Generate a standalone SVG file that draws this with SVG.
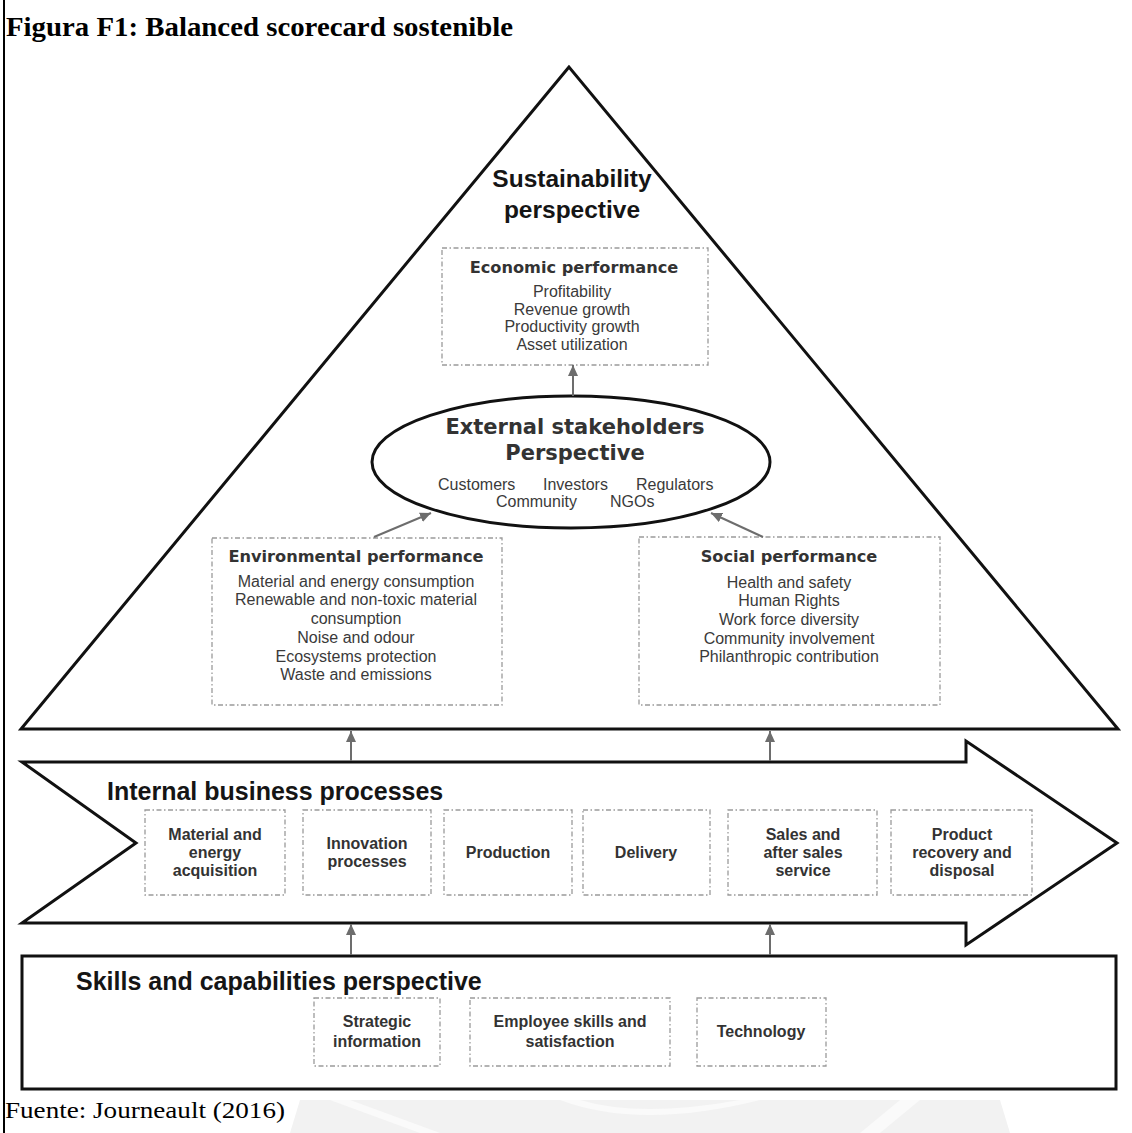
<svg xmlns="http://www.w3.org/2000/svg" width="1132" height="1133" viewBox="0 0 1132 1133">
  <style>
    .frame { fill: none; stroke: #111; stroke-width: 3; stroke-linejoin: miter; }
    .dash { fill: none; stroke: #9a9a9a; stroke-width: 1.3; stroke-dasharray: 5 2.5 1.5 2.5; }
    .conn { stroke: #6d6d6d; stroke-width: 2; fill: none; }
    .serif { font-family: "Liberation Serif", "Times New Roman", serif; fill: #000; }
    .big { font-family: "Liberation Sans", Arial, sans-serif; font-weight: bold; fill: #151515; }
    .head { font-family: "DejaVu Sans", Verdana, sans-serif; font-weight: bold; fill: #333; text-anchor: middle; }
    .item { font-family: "Liberation Sans", Arial, sans-serif; font-size: 16px; fill: #3a3a3a; }
    .mid { text-anchor: middle; }
    .lbl { font-family: "Liberation Sans", Arial, sans-serif; font-weight: bold; font-size: 16px; fill: #333; text-anchor: middle; }
  </style>
  <defs>
    <marker id="arrow" markerUnits="userSpaceOnUse" markerWidth="11" markerHeight="10" refX="11" refY="5" orient="auto">
      <path d="M0,0 L11,5 L0,10 Z" fill="#6d6d6d"/>
    </marker>
  </defs>

  <rect width="1132" height="1133" fill="#fff"/>

  <!-- faint emblem behind the source line -->
  <g id="watermark" fill="#f2f2f2">
    <path d="M300 1100 L1000 1100 L1010 1133 L290 1133 Z"/>
    <path d="M330 1100 L420 1133 L440 1133 L350 1100 Z" fill="#fafafa"/>
    <path d="M560 1100 Q 640 1130 760 1100 L740 1100 Q 640 1118 580 1100 Z" fill="#fafafa"/>
    <path d="M900 1100 L860 1133 L880 1133 L920 1100 Z" fill="#fafafa"/>
  </g>

  <!-- left page rule -->
  <line x1="4" y1="0" x2="4" y2="1133" stroke="#000" stroke-width="2"/>

  <text class="serif" x="6" y="36" font-size="27" font-weight="bold" textLength="507" lengthAdjust="spacingAndGlyphs">Figura F1: Balanced scorecard sostenible</text>
  <text class="serif" x="5" y="1118" font-size="24" textLength="280" lengthAdjust="spacingAndGlyphs">Fuente: Journeault (2016)</text>

  <!-- sustainability pyramid -->
  <g id="sustainability">
    <polygon class="frame" points="569,67 21,729 1118,729"/>
    <text class="big mid" x="572" y="187" font-size="24.5">Sustainability</text>
    <text class="big mid" x="572" y="218" font-size="24.5">perspective</text>
  </g>

  <g id="economic">
    <rect class="dash" x="442" y="248" width="266" height="117"/>
    <text class="head" x="574" y="273" font-size="16.2">Economic performance</text>
    <text class="item mid" x="572" y="297">Profitability</text>
    <text class="item mid" x="572" y="315">Revenue growth</text>
    <text class="item mid" x="572" y="332">Productivity growth</text>
    <text class="item mid" x="572" y="350">Asset utilization</text>
  </g>

  <g id="stakeholders">
    <ellipse cx="571" cy="462" rx="199" ry="66" class="frame"/>
    <text class="head" x="575" y="434" font-size="21" fill="#1a1a1a">External stakeholders</text>
    <text class="head" x="575" y="460" font-size="21" fill="#1a1a1a">Perspective</text>
    <text class="item" x="438" y="490">Customers</text>
    <text class="item" x="543" y="490">Investors</text>
    <text class="item" x="636" y="490">Regulators</text>
    <text class="item" x="496" y="507">Community</text>
    <text class="item" x="610" y="507">NGOs</text>
  </g>

  <g id="environmental">
    <rect class="dash" x="212" y="538" width="290" height="167"/>
    <text class="head" x="356" y="562" font-size="16.2">Environmental performance</text>
    <text class="item mid" x="356" y="587">Material and energy consumption</text>
    <text class="item mid" x="356" y="605">Renewable and non-toxic material</text>
    <text class="item mid" x="356" y="624">consumption</text>
    <text class="item mid" x="356" y="643">Noise and odour</text>
    <text class="item mid" x="356" y="662">Ecosystems protection</text>
    <text class="item mid" x="356" y="680">Waste and emissions</text>
  </g>

  <g id="social">
    <rect class="dash" x="639" y="537" width="301" height="168"/>
    <text class="head" x="789" y="562" font-size="16.2">Social performance</text>
    <text class="item mid" x="789" y="588">Health and safety</text>
    <text class="item mid" x="789" y="606">Human Rights</text>
    <text class="item mid" x="789" y="625">Work force diversity</text>
    <text class="item mid" x="789" y="644">Community involvement</text>
    <text class="item mid" x="789" y="662">Philanthropic contribution</text>
  </g>

  <!-- internal process chevron -->
  <g id="processes">
    <polygon class="frame" points="22,762 966,762 966,741 1117,843 966,945 966,923 22,923 136,843"/>
    <text class="big" x="107" y="800" font-size="25">Internal business processes</text>
    <rect class="dash" x="145" y="810" width="140" height="85"/>
    <text class="lbl" x="215" y="840">Material and</text>
    <text class="lbl" x="215" y="858">energy</text>
    <text class="lbl" x="215" y="876">acquisition</text>
    <rect class="dash" x="303" y="810" width="128" height="85"/>
    <text class="lbl" x="367" y="849">Innovation</text>
    <text class="lbl" x="367" y="867">processes</text>
    <rect class="dash" x="444" y="810" width="128" height="85"/>
    <text class="lbl" x="508" y="858">Production</text>
    <rect class="dash" x="583" y="810" width="127" height="85"/>
    <text class="lbl" x="646" y="858">Delivery</text>
    <rect class="dash" x="728" y="810" width="149" height="85"/>
    <text class="lbl" x="803" y="840">Sales and</text>
    <text class="lbl" x="803" y="858">after sales</text>
    <text class="lbl" x="803" y="876">service</text>
    <rect class="dash" x="891" y="810" width="141" height="85"/>
    <text class="lbl" x="962" y="840">Product</text>
    <text class="lbl" x="962" y="858">recovery and</text>
    <text class="lbl" x="962" y="876">disposal</text>
  </g>

  <g id="skills">
    <rect class="frame" x="22" y="956" width="1094" height="133"/>
    <text class="big" x="76" y="990" font-size="25">Skills and capabilities perspective</text>
    <rect class="dash" x="314" y="998" width="126" height="68"/>
    <text class="lbl" x="377" y="1027">Strategic</text>
    <text class="lbl" x="377" y="1047">information</text>
    <rect class="dash" x="470" y="998" width="200" height="68"/>
    <text class="lbl" x="570" y="1027">Employee skills and</text>
    <text class="lbl" x="570" y="1047">satisfaction</text>
    <rect class="dash" x="697" y="998" width="129" height="68"/>
    <text class="lbl" x="761" y="1037">Technology</text>
  </g>

  <!-- connectors -->
  <g id="connectors">
    <line class="conn" x1="573" y1="396" x2="573" y2="365" marker-end="url(#arrow)"/>
    <line class="conn" x1="374" y1="537" x2="431" y2="513" marker-end="url(#arrow)"/>
    <line class="conn" x1="763" y1="537" x2="711" y2="513" marker-end="url(#arrow)"/>
    <line class="conn" x1="351" y1="761" x2="351" y2="731" marker-end="url(#arrow)"/>
    <line class="conn" x1="770" y1="761" x2="770" y2="731" marker-end="url(#arrow)"/>
    <line class="conn" x1="351" y1="955" x2="351" y2="924" marker-end="url(#arrow)"/>
    <line class="conn" x1="770" y1="955" x2="770" y2="924" marker-end="url(#arrow)"/>
  </g>
</svg>
